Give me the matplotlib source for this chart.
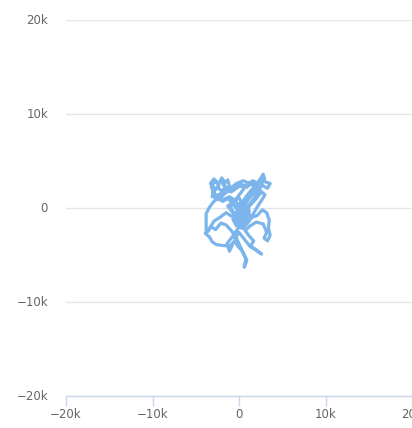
import matplotlib
matplotlib.use("Agg")
import matplotlib.pyplot as plt
from matplotlib.ticker import FuncFormatter

# Random-walk trace, coordinates in thousands
walk_x = [0.0, -0.4, -1.1, -1.8, -2.5, -3.1, -2.8, -3.3, -2.9, -2.4, -2.0, -1.6, -1.3, -1.1,
          -1.9, -2.6, -3.0, -2.4, -1.7, -0.9, -0.2, 0.6, 1.3, 1.9, 2.4, 2.8, 3.0, 3.6, 3.3,
          2.7, 2.1, 1.5, 1.0, 0.5, 0.1, -0.5, -0.2, 0.4, 1.1, 1.7, 2.2, 1.6, 0.9, 0.2, -0.4,
          -1.0, -0.6, 0.2, 0.9, 1.5, 2.1, 2.7, 3.2, 3.5, 3.4, 3.6, 3.3, 2.9, 3.2, 2.8, 2.0,
          1.3, 0.7, 1.2, 1.7, 1.3, 1.9, 2.6, 2.0, 1.2, 0.6, 0.0, -0.5, -0.2, 0.4, 0.8, 0.6,
          0.9, 0.5, 0.1, -0.4, -0.9, -1.5, -2.1, -2.7, -3.2, -3.6, -3.9, -3.4, -3.1, -2.6,
          -1.8, -1.0, -0.6, -1.1, -1.4, -0.8, -0.2, 0.3, 0.8, 1.2, 0.7, 0.1, -0.5, -0.2, 0.4,
          1.0, 1.6, 2.1, 2.6, 3.0, 2.4, 1.8, 1.2, 0.5, -0.3, -1.0, -1.7, -2.4, -3.0, -3.4,
          -3.8, -3.8, -3.3, -2.9, -2.2, -1.5, -0.8, -0.1, 0.4, 0.0, -0.6, -1.3, -0.7, 0.1,
          0.6, 1.3, 1.9, 2.5, 2.2, 1.5, 0.9, 0.3, -0.2, 0.2, 0.7, 0.3, -0.3, -0.7, -0.3,
          0.2, 0.8, 0.5, 0.0, -0.4, 0.1, 0.6, 1.0, 0.6, 0.1, -0.3, -0.8, -1.3, -1.9, -2.5,
          -3.0, -3.2, -2.7, -2.3, -2.8, -3.1, -2.6, -2.1, -1.6, -2.0, -1.5, -0.9, -0.3, 0.3,
          0.9, 1.5, 2.0, 2.4, 2.9, 2.6, 2.2, 1.8, 1.3, 0.7, 0.2, -0.2, 0.3, 0.9, 1.4, 1.0,
          0.5]
walk_y = [0.0, 0.8, 1.2, 0.9, 1.4, 1.2, 2.0, 2.6, 3.1, 2.5, 3.2, 2.7, 3.0, 2.3,
          1.8, 2.2, 1.6, 0.9, 1.5, 2.0, 2.4, 2.2, 2.7, 2.4, 3.0, 3.6, 2.8, 2.6, 2.1,
          2.4, 1.9, 1.4, 0.8, 0.1, -0.6, -1.2, -0.5, 0.3, 1.0, 1.7, 2.6, 2.9, 2.5, 1.6, 0.9,
          0.2, -0.6, -1.1, -1.6, -1.0, -0.8, -0.2, -0.5, -1.3, -2.1, -2.9, -3.5, -3.2, -2.6, -1.7, -1.5,
          -1.9, -2.4, -3.0, -3.5, -4.1, -4.4, -4.9, -4.5, -4.0, -3.3, -2.6, -3.2, -4.0, -4.6, -5.4, -6.3,
          -5.6, -4.8, -4.0, -3.0, -2.4, -1.8, -1.6, -2.3, -2.0, -2.5, -2.7, -3.1, -3.6, -3.9,
          -4.0, -4.0, -3.6, -4.6, -3.8, -3.1, -2.3, -1.7, -1.1, -0.3, 0.4, -0.2, -0.9, -1.7, -2.2,
          -1.6, -0.7, 0.1, 0.8, 1.4, 1.9, 2.3, 2.6, 2.9, 2.6, 2.1, 1.6, 1.1, 0.6, 0.1,
          -0.6, -2.5, -2.0, -1.4, -1.0, -0.5, -0.9, -0.3, 0.4, 1.1, 0.7, 0.2, -0.5, -1.0,
          -0.4, 0.3, 0.9, 1.6, 2.3, 2.0, 1.3, 0.5, -0.3, -1.0, -0.6, -1.4, -1.9, -1.2, -0.6,
          -1.3, -0.8, -0.2, -0.7, -1.5, -2.0, -1.4, -0.8, -0.1, 0.5, -0.1, 0.6, 1.0, 0.7, 1.1,
          1.7, 2.3, 2.9, 2.4, 1.9, 1.3, 1.0, 1.6, 2.2, 2.8, 2.2, 1.7, 2.1, 2.5,
          2.2, 2.7, 2.3, 2.8, 3.2, 2.5, 1.8, 1.1, 0.5, -0.2, -0.9, -1.4, -0.8, -0.3, -0.9,
          -1.5, -2.0]

x_ticks = [-20, -10, 0, 10, 20]
y_ticks = [-20, -10, 0, 10, 20]


def fmt_k(v, pos=None):
    v = int(round(v))
    if v == 0:
        return "0"
    return ("\u2212" if v < 0 else "") + f"{abs(v)}k"


fig = plt.figure(figsize=(4.12, 4.28), dpi=100)
ax = fig.add_axes([66 / 412, 32 / 428, 346 / 412, 376 / 428])

ax.plot(walk_x, walk_y, color="#7cb5ec", linewidth=2.3, solid_joinstyle="round",
        solid_capstyle="round", clip_on=False)

ax.set_xlim(-20, 20)
ax.set_ylim(-20, 20)
ax.set_xticks(x_ticks)
ax.set_yticks(y_ticks)
ax.xaxis.set_major_formatter(FuncFormatter(fmt_k))
ax.yaxis.set_major_formatter(FuncFormatter(fmt_k))

for s in ("top", "right", "left"):
    ax.spines[s].set_visible(False)
ax.spines["bottom"].set_color("#ccd6eb")
ax.spines["bottom"].set_linewidth(1)

ax.grid(axis="y", color="#e6e6e6", linewidth=1)
ax.set_axisbelow(True)

ax.tick_params(axis="x", direction="out", length=7, width=1, color="#ccd6eb",
               labelsize=8.5, labelcolor="#666666", pad=2)
ax.tick_params(axis="y", length=0, labelsize=8.5, labelcolor="#666666", pad=13)
for lbl in ax.get_yticklabels():
    lbl.set_verticalalignment("center")

fig.savefig("out.png", dpi=100)
